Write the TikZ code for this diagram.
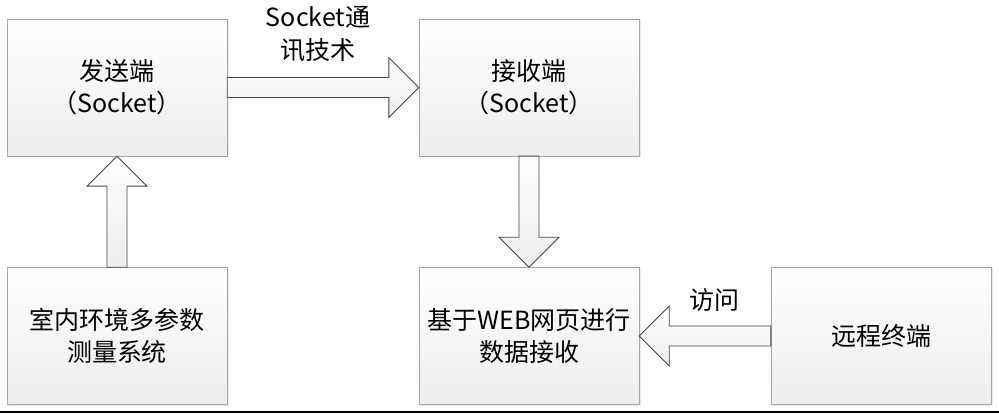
\documentclass[tikz,border=0pt]{standalone}
\usepackage{fontspec}
\setmainfont{Noto Sans CJK SC}
\usetikzlibrary{calc}
\usetikzlibrary{shadows}

\begin{document}
\begin{tikzpicture}[x=1pt, y=1pt,
  unit/.style={draw=gray!70, top color=white, bottom color=gray!14,
    minimum width=220pt, minimum height=137pt, inner sep=0pt, align=center,
    font=\fontsize{25}{32}\selectfont,
    drop shadow={opacity=0.18, shadow xshift=1.5pt, shadow yshift=-1.5pt}},
  bigarrow/.style={top color=white, bottom color=gray!14},
  arrowrim/.style={draw=gray!55!black, line width=0.9pt, line join=miter},
  lbl/.style={align=center, font=\fontsize{25}{33}\selectfont}]
\useasboundingbox (0,0) rectangle (999,415); % adjust bounding box
\node[unit] (send)   at (117,327.5) {发送端\\（Socket）};
\node[unit] (recv)   at (529,327.5) {接收端\\（Socket）};
\node[unit] (meas)   at (117,79)    {室内环境多参数\\测量系统};
\node[unit] (web)    at (529,79)    {基于WEB网页进行\\数据接收};
\node[unit] (remote) at (881,79)    {远程终端};
% block arrows
\shadedraw[bigarrow, arrowrim] ($(send.east)+(0,10)$) -- ($(recv.west)+(-30,10)$) -- ++(0,20)
                -- (recv.west) -- ++(-30,-30) -- ++(0,20)
                -- ($(send.east)+(0,-10)$) -- cycle;
\shadedraw[bigarrow, arrowrim] ($(meas.north)+(-10,0)$) -- ($(send.south)+(-10,-30)$) -- ++(-20,0)
                -- (send.south) -- ++(30,-30) -- ++(-20,0)
                -- ($(meas.north)+(10,0)$) -- cycle;
\shadedraw[bigarrow, arrowrim] ($(recv.south)+(-10,0)$) -- ($(web.north)+(-10,30)$) -- ++(-20,0)
                -- (web.north) -- ++(30,30) -- ++(-20,0)
                -- ($(recv.south)+(10,0)$) -- cycle;
\shadedraw[bigarrow, arrowrim] ($(remote.west)+(0,10)$) -- ($(web.east)+(30,10)$) -- ++(0,20)
                -- (web.east) -- ++(30,-30) -- ++(0,20)
                -- ($(remote.west)+(0,-10)$) -- cycle;
\node[lbl] (socklbl) at (318,380.5) {Socket通\\讯技术};
\node[lbl] (visit)   at (714,115)   {访问};
\draw[line width=2pt] (0,3) -- (999,3);
\end{tikzpicture}
\end{document}
